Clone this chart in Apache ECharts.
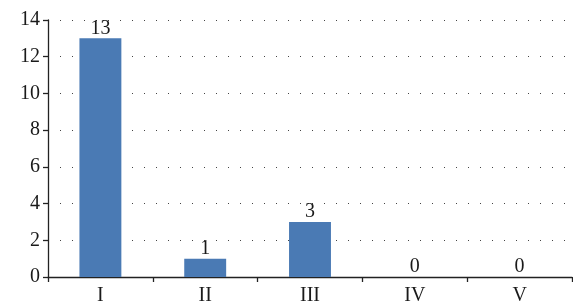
<!DOCTYPE html>
<html><head><meta charset="utf-8">
<script src="https://cdn.jsdelivr.net/npm/echarts@6/dist/echarts.min.js"></script>
<style>html,body{margin:0;padding:0;background:#fff}#c{width:573px;height:308px}</style>
</head><body><div id="c"></div>
<script>
var categories = ['I', 'II', 'III', 'IV', 'V'];
var values = [13, 1, 3, 0, 0];
var chart = echarts.init(document.getElementById('c'));
var font = 'Liberation Serif';
chart.setOption({
  animation: false,
  grid: {left: 48, right: 1, top: 20, bottom: 31},
  xAxis: {
    type: 'category', data: categories,
    axisLine: {lineStyle: {color: '#222', width: 1.3}},
    axisTick: {show: true, alignWithLabel: false, length: 5, lineStyle: {color: '#222', width: 1.3}},
    axisLabel: {color: '#1a1a1a', fontFamily: font, fontSize: 20, margin: 9}
  },
  yAxis: {
    type: 'value', min: 0, max: 14, interval: 2,
    axisLine: {show: true, lineStyle: {color: '#222', width: 1.3}},
    axisTick: {show: true, length: 5, lineStyle: {color: '#222', width: 1.3}},
    axisLabel: {color: '#1a1a1a', fontFamily: font, fontSize: 20, margin: 8},
    splitLine: {show: true, lineStyle: {color: '#444', type: [1, 11], width: 1}}
  },
  series: [{
    type: 'bar', data: values, barWidth: '40%',
    itemStyle: {color: '#4a7ab4'},
    label: {show: true, position: 'top', color: '#1a1a1a', fontFamily: font, fontSize: 20, distance: 0}
  }]
});
</script></body></html>
